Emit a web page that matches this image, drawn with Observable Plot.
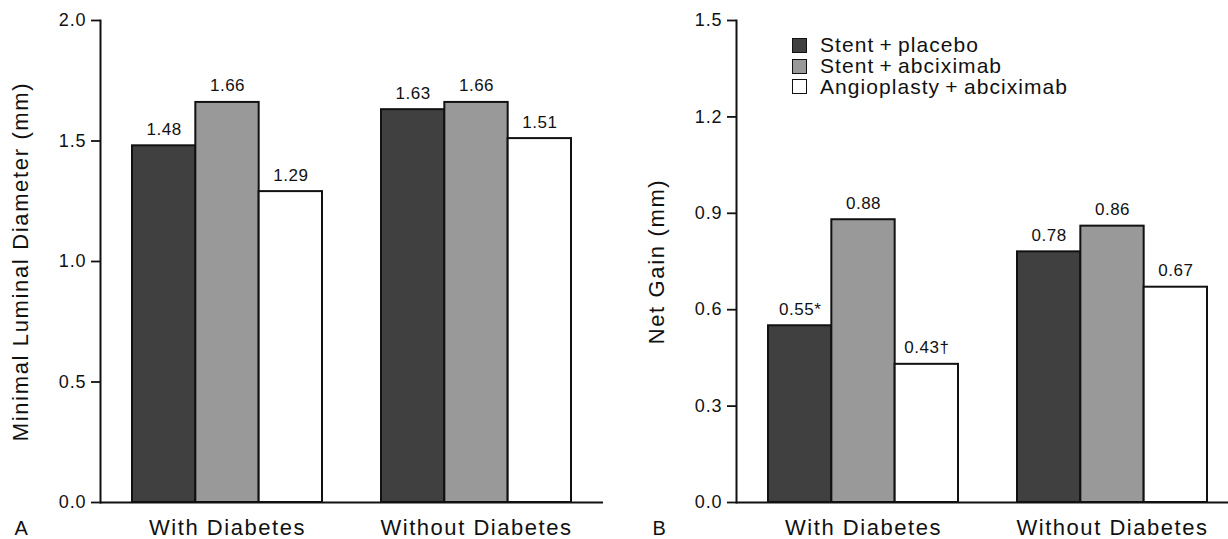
<!DOCTYPE html>
<html><head><meta charset="utf-8">
<script src="https://cdn.jsdelivr.net/npm/d3@7"></script>
<script src="https://cdn.jsdelivr.net/npm/@observablehq/plot@0.6"></script>
<style>
html,body{margin:0;padding:0;background:#fff;overflow:hidden}
#wrap{position:relative;width:1228px;height:539px;overflow:hidden}
#a{position:absolute;left:0;top:0;width:620px;height:539px}
#b{position:absolute;left:636px;top:0;width:603px;height:539px}
#a svg,#b svg{max-width:none !important}
#legend{position:absolute;left:792px;top:35px;font-family:"Liberation Sans",Arial,sans-serif;font-size:21px;letter-spacing:0.05em;color:#111}
.row{display:flex;align-items:center;height:20.7px;white-space:nowrap}
.sw{width:13px;height:13px;border:1.5px solid #111;margin-right:13px;flex:none}
svg g[aria-label="x-axis tick label"]{letter-spacing:0.07em}
svg g[aria-label="y-axis label"]{letter-spacing:0.075em}
svg g[aria-label="y-axis tick label"]{letter-spacing:0.05em}
svg g[aria-label="text"]{letter-spacing:0.03em}
</style></head><body><div id="wrap"><div id="a"></div><div id="b"></div><div id="legend"></div></div>
<script>
const groups = ["With Diabetes", "Without Diabetes"];
const series = ["Stent\u2009+\u2009placebo", "Stent\u2009+\u2009abciximab", "Angioplasty\u2009+\u2009abciximab"];
const colors = ["#404040", "#999999", "#ffffff"];
const mldValues = [[1.48, 1.66, 1.29], [1.63, 1.66, 1.51]];
const mldLabels = [["1.48", "1.66", "1.29"], ["1.63", "1.66", "1.51"]];
const gainValues = [[0.55, 0.88, 0.43], [0.78, 0.86, 0.67]];
const gainLabels = [["0.55*", "0.88", "0.43\u2020"], ["0.78", "0.86", "0.67"]];
const mldTicks = [0, 0.5, 1, 1.5, 2];
const gainTicks = [0, 0.3, 0.6, 0.9, 1.2, 1.5];

const FONT = '"Liberation Sans", Arial, sans-serif';

function panel({values, labels, ticks, domain, yLabel, letter, width, marginRight, letterDx}) {
  const rows = [];
  groups.forEach((g, gi) => series.forEach((s, si) => rows.push({group: g, series: s, si, value: values[gi][si], label: labels[gi][si]})));
  const marginLeft = 100;
  const plotW = width - marginLeft - marginRight;
  const pi = 0.237, po = 0.1285;
  const step = plotW / (groups.length - pi + 2 * po);
  const bw = step * (1 - pi);
  const sub = bw / series.length;
  const marks = [];
  series.forEach((s, si) => {
    const d = rows.filter(r => r.si === si);
    marks.push(Plot.barY(d, {x: "group", y: "value", fill: colors[si], stroke: "#111", strokeWidth: 2,
      insetLeft: si * sub, insetRight: (series.length - 1 - si) * sub}));
    marks.push(Plot.text(d, {x: "group", y: "value", text: "label", dx: (si - (series.length - 1) / 2) * sub,
      dy: -11, lineAnchor: "bottom", fontSize: 17, fill: "#111"}));
  });
  return Plot.plot({
    width, height: 539,
    marginLeft, marginRight, marginTop: 20, marginBottom: 37,
    style: {fontFamily: FONT, color: "#111", background: "transparent", overflow: "visible"},
    x: {type: "band", domain: groups, paddingInner: pi, paddingOuter: po, align: 0.5},
    y: {domain, ticks},
    marks: [
      ...marks,
      Plot.ruleY([0], {stroke: "#111", strokeWidth: 2}),
      Plot.frame({anchor: "left", stroke: "#111", strokeWidth: 2}),
      Plot.axisY({ticks, tickFormat: d3.format(".1f"), tickSize: 9, tickPadding: 5, fontSize: 18, strokeWidth: 1.8, label: null}),
      Plot.axisY({ticks: [], tickSize: 0, fontSize: 22, label: yLabel, labelAnchor: "center", labelOffset: 88, labelArrow: "none"}),
      Plot.axisX({tickSize: 0, tickPadding: 17, fontSize: 22, label: null}),
      Plot.text([letter], {frameAnchor: "bottom-left", dx: letterDx, dy: 32, fontSize: 20, lineAnchor: "bottom", fill: "#111"})
    ]
  });
}

const A = panel({values: mldValues, labels: mldLabels, ticks: mldTicks, domain: [0, 2],
  yLabel: "Minimal Luminal Diameter (mm)", letter: "A", width: 620, marginRight: 17, letterDx: -86});
document.getElementById("a").appendChild(A);

const B = panel({values: gainValues, labels: gainLabels, ticks: gainTicks, domain: [0, 1.5],
  yLabel: "Net Gain (mm)", letter: "B", width: 603, marginRight: 0, letterDx: -84});
document.getElementById("b").appendChild(B);

const legend = d3.select("#legend");
series.forEach((s, i) => {
  const row = legend.append("div").attr("class", "row");
  row.append("div").attr("class", "sw").style("background", colors[i]);
  row.append("span").text(s);
});
</script></body></html>
